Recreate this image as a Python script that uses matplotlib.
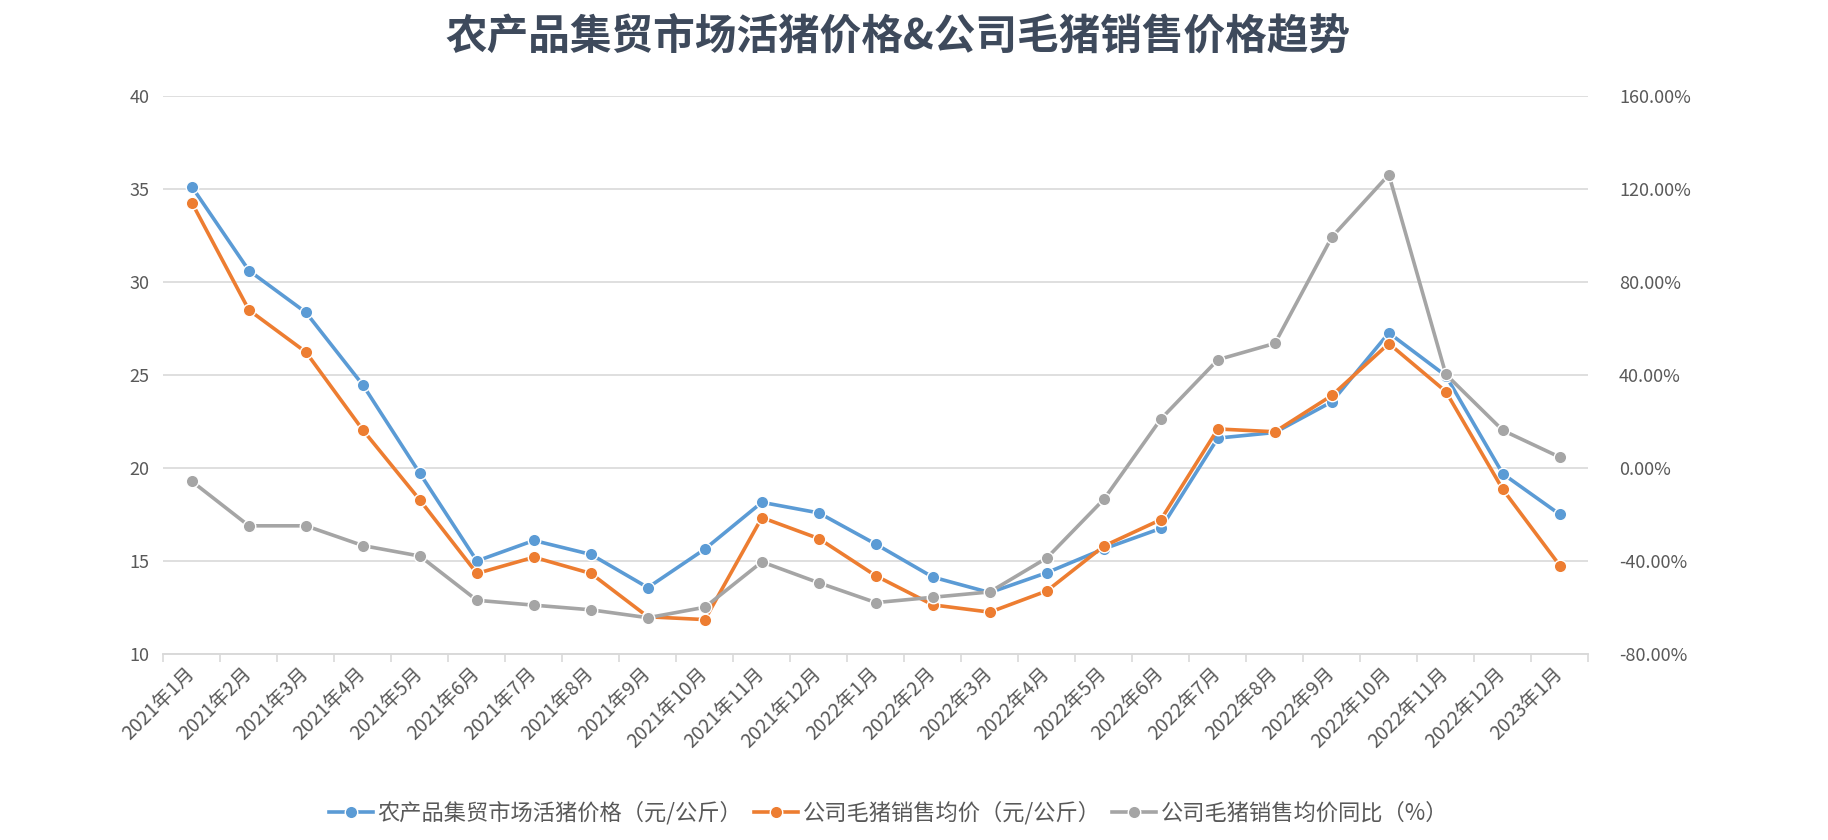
import matplotlib
matplotlib.use("Agg")
import matplotlib.pyplot as plt
from matplotlib.ticker import FuncFormatter, MultipleLocator

plt.rcParams['font.family'] = ['Noto Sans CJK SC', 'DejaVu Sans']

months = ["2021年1月", "2021年2月", "2021年3月", "2021年4月", "2021年5月", "2021年6月",
          "2021年7月", "2021年8月", "2021年9月", "2021年10月", "2021年11月", "2021年12月",
          "2022年1月", "2022年2月", "2022年3月", "2022年4月", "2022年5月", "2022年6月",
          "2022年7月", "2022年8月", "2022年9月", "2022年10月", "2022年11月", "2022年12月",
          "2023年1月"]

market_price = [35.1, 30.6, 28.35, 24.45, 19.7, 15.0, 16.1, 15.35, 13.57, 15.64, 18.15, 17.58,
                15.9, 14.13, 13.3, 14.37, 15.65, 16.75, 21.6, 21.9, 23.55, 27.25, 24.95, 19.68,
                17.5]
company_price = [34.24, 28.48, 26.22, 22.03, 18.27, 14.33, 15.2, 14.33, 12.0, 11.85, 17.33, 16.2,
                 14.2, 12.64, 12.25, 13.39, 15.8, 17.22, 22.09, 21.94, 23.89, 26.68, 24.1, 18.84,
                 14.75]
company_yoy = [-5.8, -24.9, -24.9, -33.4, -37.9, -56.9, -59.0, -61.0, -64.4, -59.9, -40.4, -49.4,
               -57.9, -55.6, -53.3, -38.7, -13.5, 21.0, 46.5, 53.5, 99.2, 126.0, 40.2, 16.1,
               4.6]

labels = ["农产品集贸市场活猪价格（元/公斤）", "公司毛猪销售均价（元/公斤）", "公司毛猪销售均价同比（%）"]
colors = ["#5B9BD5", "#ED7D31", "#A5A5A5"]
text_color = "#595959"
grid_color = "#D9D9D9"

fig = plt.figure(figsize=(18.28, 8.4), dpi=100)
ax = fig.add_axes([0.0894, 0.2214, 0.7795, 0.6648])
ax2 = ax.twinx()

x = list(range(len(months)))
style = dict(lw=2.6, marker="o", ms=9, mec="white", mew=1.0)
h1, = ax.plot(x, market_price, color=colors[0], label=labels[0], zorder=3, **style)
h2, = ax.plot(x, company_price, color=colors[1], label=labels[1], zorder=4, **style)
h3, = ax2.plot(x, company_yoy, color=colors[2], label=labels[2], zorder=5, **style)

ax.set_xlim(-0.5, len(months) - 0.5)
ax.set_ylim(10, 40)
ax.yaxis.set_major_locator(MultipleLocator(5))
ax2.set_ylim(-80, 160)
ax2.yaxis.set_major_locator(MultipleLocator(40))
ax2.yaxis.set_major_formatter(FuncFormatter(lambda v, p: f"{v:.2f}%"))

ax.grid(axis="y", color=grid_color, lw=1.2)
ax.set_axisbelow(True)
for a in (ax, ax2):
    for s in ("top", "left", "right"):
        a.spines[s].set_visible(False)
    a.spines["bottom"].set_color(grid_color)
    a.spines["bottom"].set_linewidth(1.2)

ax.set_xticks([i - 0.5 for i in range(len(months) + 1)], minor=False)
ax.set_xticklabels([])
ax.set_xticks(x, minor=True)
ax.set_xticklabels(months, minor=True, rotation=45, ha="right", va="center",
                   rotation_mode="anchor", fontsize=14, color=text_color)
ax.tick_params(axis="x", which="major", length=6, color=grid_color, width=1.2)
ax.tick_params(axis="x", which="minor", length=0, pad=12)
ax.tick_params(axis="y", length=0, labelsize=13, labelcolor=text_color, pad=10)
ax2.tick_params(axis="y", length=0, labelsize=13, labelcolor=text_color, pad=22)

fig.text(0.491, 0.956, "农产品集贸市场活猪价格&公司毛猪销售价格趋势", ha="center", va="center",
         fontsize=30, fontweight="bold", color="#3E4A5C")

fig.legend(handles=[h1, h2, h3], loc="center", bbox_to_anchor=(0.486, 0.032), ncol=3,
           frameon=False, fontsize=16, labelcolor=text_color, handlelength=2.0,
           handletextpad=0.2, columnspacing=0.5)

fig.savefig("out.png", dpi=100, facecolor="white")
